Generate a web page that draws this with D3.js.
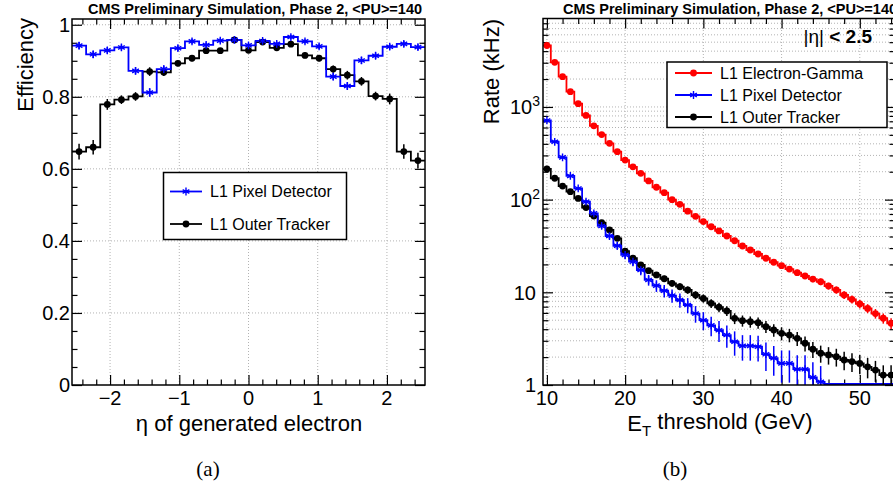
<!DOCTYPE html>
<html>
<head>
<meta charset="utf-8">
<script src="https://cdn.jsdelivr.net/npm/d3@7"></script>
<style>
  body { margin: 0; background: #fff; }
  svg { display: block; }
  text { font-family: "Liberation Sans", Arial, Helvetica, sans-serif; }
</style>
</head>
<body>
<svg id="canvas" width="893" height="488"></svg>
<script>
"use strict";

// (a) efficiency vs eta, 25 bins
var etaRange = [-2.55, 2.55];
var etaBinCount = 25;
var pixelEff = [0.942, 0.918, 0.929, 0.937, 0.872, 0.812, 0.877, 0.935, 0.954, 0.944, 0.956, 0.958, 0.943,
                0.955, 0.947, 0.966, 0.954, 0.940, 0.856, 0.830, 0.901, 0.914, 0.939, 0.947, 0.938];
var pixelEffErr = [0.010, 0.010, 0.009, 0.008, 0.010, 0.012, 0.010, 0.008, 0.007, 0.007, 0.006, 0.006, 0.007,
                   0.006, 0.006, 0.006, 0.006, 0.007, 0.010, 0.010, 0.010, 0.009, 0.008, 0.008, 0.008];
var trackerEff = [0.648, 0.660, 0.779, 0.792, 0.801, 0.870, 0.868, 0.893, 0.907, 0.928, 0.928, 0.958, 0.929,
                  0.952, 0.936, 0.946, 0.915, 0.907, 0.877, 0.860, 0.843, 0.802, 0.794, 0.648, 0.623];
var trackerEffErr = [0.022, 0.020, 0.015, 0.012, 0.012, 0.012, 0.010, 0.008, 0.008, 0.007, 0.007, 0.006, 0.007,
                     0.007, 0.007, 0.007, 0.008, 0.008, 0.010, 0.012, 0.012, 0.012, 0.015, 0.020, 0.022];
var etaTicks = [-2, -1, 0, 1, 2];
var effTicks = [0, 0.2, 0.4, 0.6, 0.8, 1];

// (b) rate vs ET threshold (kHz)
var etThresholds = [10, 11, 12, 13, 14, 15, 16, 17, 18, 19, 20, 21, 22, 23, 24, 25, 26, 27, 28, 29, 30, 31,
                    32, 33, 34, 35, 36, 37, 38, 39, 40, 41, 42, 43, 44, 45, 46, 47, 48, 49, 50, 51, 52, 53, 54];
var egRate = [4600, 3030, 2120, 1460, 1085, 810, 625, 503, 405, 329, 267, 226, 192, 159, 136, 119, 100, 89, 75,
              66, 58, 51, 46, 40.5, 36, 31.6, 28.6, 25.9, 23.3, 21.1, 19.4, 17.8, 16.3, 15.0, 13.9, 13.0,
              11.7, 10.6, 9.35, 8.4, 7.5, 6.7, 5.9, 5.25, 4.63];
var egErr = [20, 16, 13.4, 11.1, 9.6, 8.3, 7.3, 6.5, 5.8, 5.3, 4.7, 4.4, 4.0, 3.7, 3.4, 3.2, 2.9, 2.75, 2.5,
             2.3, 2.2, 2.1, 2.0, 1.85, 1.74, 1.63, 1.55, 1.48, 1.4, 1.33, 1.28, 1.22, 1.17, 1.12, 1.08, 1.05,
             0.99, 0.94, 0.89, 0.84, 0.79, 0.75, 0.70, 0.66, 0.62];
var pixelRate = [715, 421, 286, 180, 132, 95, 71, 52, 40.5, 31.8, 25.3, 21.4, 17.4, 13.6, 11.8, 10.4, 9.2,
                 8.26, 7.3, 5.9, 5.0, 4.4, 3.9, 3.46, 2.93, 2.64, 2.64, 2.59, 2.15, 1.95, 1.71, 1.71, 1.48,
                 1.48, 1.21, 1.08, 0, 0, 0, 0, 0, 0, 0, 0, 0];
var pixelErr = [13.4, 10.3, 8.5, 6.7, 5.7, 4.9, 4.2, 3.6, 3.2, 2.8, 2.5, 2.3, 2.1, 1.8, 1.7, 1.6, 1.5, 1.44,
                1.35, 1.2, 1.1, 1.05, 0.99, 0.93, 0.86, 0.81, 0.81, 0.8, 0.73, 0.69, 0.65, 0.65, 0.61, 0.61,
                0.55, 0.52, 0, 0, 0, 0, 0, 0, 0, 0, 0];
var trackerRate = [214, 170, 140, 122, 103, 82, 66.5, 56.4, 47, 38.2, 27.8, 23.3, 19.7, 17.1, 15.4, 14.0,
                   12.5, 11.5, 10.6, 9.35, 8.6, 7.6, 6.9, 6.3, 5.24, 4.94, 4.82, 4.7, 4.26, 3.92, 3.61, 3.46,
                   3.19, 2.82, 2.43, 2.2, 2.11, 2.02, 1.86, 1.79, 1.71, 1.57, 1.45, 1.28, 1.28];
var trackerErr = [4.2, 3.8, 3.4, 3.2, 2.9, 2.6, 2.4, 2.2, 2.0, 1.8, 1.55, 1.42, 1.3, 1.22, 1.16, 1.1, 1.05,
                  1.0, 0.97, 0.92, 0.88, 0.83, 0.8, 0.76, 0.7, 0.68, 0.67, 0.66, 0.63, 0.61, 0.58, 0.57, 0.55,
                  0.52, 0.48, 0.46, 0.45, 0.44, 0.42, 0.41, 0.4, 0.39, 0.37, 0.35, 0.35];
var etTicks = [10, 20, 30, 40, 50];
var rateTicks = [1, 10, 100, 1000];

var TITLE = "CMS Preliminary Simulation, Phase 2, <PU>=140";
var RED = "#ff0000", BLUE = "#0000ff", BLACK = "#000000";
var LINE_W = 1.8;
var SERIF = "'Liberation Serif', 'Times New Roman', serif";

var svg = d3.select("#canvas");

function gridLines(g, x, y, xs, ys) {
    var xr = x.range(), yr = y.range();
    g.selectAll(null).data(xs).enter().append("line")
        .attr("x1", function(d) { return x(d); }).attr("x2", function(d) { return x(d); })
        .attr("y1", yr[0]).attr("y2", yr[1])
        .attr("stroke", "#aaa").attr("stroke-width", 0.9).attr("stroke-dasharray", "1,2");
    g.selectAll(null).data(ys).enter().append("line")
        .attr("x1", xr[0]).attr("x2", xr[1])
        .attr("y1", function(d) { return y(d); }).attr("y2", function(d) { return y(d); })
        .attr("stroke", "#aaa").attr("stroke-width", 0.9).attr("stroke-dasharray", "1,2");
}

// ticks inside the frame on all four sides; labels only bottom/left
function tickSet(g, x, y, xMajor, xMinor, yMajor, yMinor, majorLen, minorLen) {
    var xr = x.range(), yr = y.range();
    function put(axis, tx, ty) {
        var a = g.append("g").attr("transform", "translate(" + tx + "," + ty + ")").call(axis);
        a.select(".domain").remove();
        a.selectAll("text").remove();
        a.selectAll("line").attr("stroke", BLACK).attr("stroke-width", 1.2);
        return a;
    }
    [[xMajor, majorLen], [xMinor, minorLen]].forEach(function(p) {
        put(d3.axisBottom(x).tickValues(p[0]).tickSize(-p[1]), 0, yr[0]);
        put(d3.axisTop(x).tickValues(p[0]).tickSize(-p[1]), 0, yr[1]);
    });
    [[yMajor, majorLen], [yMinor, minorLen]].forEach(function(p) {
        put(d3.axisLeft(y).tickValues(p[0]).tickSize(-p[1]), xr[0], 0);
        put(d3.axisRight(y).tickValues(p[0]).tickSize(-p[1]), xr[1], 0);
    });
}

function frame(g, x, y) {
    var xr = x.range(), yr = y.range();
    g.append("rect")
        .attr("x", xr[0]).attr("y", yr[1])
        .attr("width", xr[1] - xr[0]).attr("height", yr[0] - yr[1])
        .attr("fill", "none").attr("stroke", BLACK).attr("stroke-width", 1.5);
}

function stepHist(g, x, y, lo, hi, values, color, floorY) {
    var pts = [];
    values.forEach(function(v, i) {
        var yy = v > 0 ? y(v) : floorY;
        pts.push([x(lo[i]), yy], [x(hi[i]), yy]);
    });
    g.append("path")
        .attr("d", d3.line()(pts))
        .attr("fill", "none").attr("stroke", color).attr("stroke-width", LINE_W);
}

function errorBars(g, x, y, centers, values, errs, color) {
    g.selectAll(null).data(values).enter()
        .filter(function(v) { return v > 0; })
        .append("line")
        .attr("x1", function(v, i) { return x(centers[i]); })
        .attr("x2", function(v, i) { return x(centers[i]); })
        .attr("y1", function(v, i) { return y(Math.max(v - errs[i], y.domain()[0])); })
        .attr("y2", function(v, i) { return y(v + errs[i]); })
        .attr("stroke", color).attr("stroke-width", 1.5);
}

function markerAt(g, cx, cy, kind, color) {
    if (kind === "star") {
        g.append("path")
            .attr("d", d3.symbol(d3.symbolAsterisk, 42)())
            .attr("transform", "translate(" + cx + "," + cy + ")")
            .attr("fill", "none").attr("stroke", color).attr("stroke-width", 1.4);
    } else {
        g.append("circle").attr("cx", cx).attr("cy", cy).attr("r", 3.4).attr("fill", color);
    }
}

function markers(g, x, y, centers, values, kind, color) {
    values.forEach(function(v, i) {
        if (v > 0) markerAt(g, x(centers[i]), y(v), kind, color);
    });
}

function legend(g, box, rows, fontSize) {
    g.append("rect")
        .attr("x", box[0]).attr("y", box[1]).attr("width", box[2]).attr("height", box[3])
        .attr("fill", "#fff").attr("stroke", BLACK).attr("stroke-width", 1.5);
    rows.forEach(function(r) {
        g.append("line").attr("x1", r.x0).attr("x2", r.x1).attr("y1", r.y).attr("y2", r.y)
            .attr("stroke", r.color).attr("stroke-width", LINE_W);
        markerAt(g, (r.x0 + r.x1) / 2, r.y, r.kind, r.color);
        g.append("text").attr("x", r.tx).attr("y", r.y).attr("dy", "0.36em")
            .attr("font-size", fontSize).text(r.label);
    });
}

// ---------- panel (a) ----------
(function() {
    var g = svg.append("g");
    var x = d3.scaleLinear().domain(etaRange).range([72, 425]);
    var y = d3.scaleLinear().domain([0, 1.016]).range([385, 19]);
    var w = (etaRange[1] - etaRange[0]) / etaBinCount;
    var lo = pixelEff.map(function(d, i) { return etaRange[0] + i * w; });
    var hi = lo.map(function(d) { return d + w; });
    var mid = lo.map(function(d) { return d + w / 2; });

    gridLines(g, x, y, etaTicks, effTicks.slice(1));

    var xMinor = [], yMinor = [];
    for (var k = -12; k <= 12; k++) if (k % 5 !== 0) xMinor.push(k * 0.2);
    for (var j = 1; j < 20; j++) if (j % 4 !== 0) yMinor.push(j * 0.05);
    tickSet(g, x, y, etaTicks, xMinor, effTicks, yMinor, 10, 5.5);

    stepHist(g, x, y, lo, hi, trackerEff, BLACK, 385);
    stepHist(g, x, y, lo, hi, pixelEff, BLUE, 385);
    errorBars(g, x, y, mid, trackerEff, trackerEffErr, BLACK);
    errorBars(g, x, y, mid, pixelEff, pixelEffErr, BLUE);
    markers(g, x, y, mid, trackerEff, "dot", BLACK);
    markers(g, x, y, mid, pixelEff, "star", BLUE);
    frame(g, x, y);

    g.selectAll(null).data(etaTicks).enter().append("text")
        .attr("x", function(d) { return x(d); }).attr("y", 405)
        .attr("text-anchor", "middle").attr("font-size", 20)
        .text(function(d) { return d < 0 ? "\u2212" + Math.abs(d) : d; });
    g.selectAll(null).data(effTicks).enter().append("text")
        .attr("x", 70).attr("y", function(d) { return y(d); }).attr("dy", "0.36em")
        .attr("text-anchor", "end").attr("font-size", 20)
        .text(function(d) { return d3.format("~g")(d); });

    g.append("text").attr("x", 255).attr("y", 14).attr("text-anchor", "middle")
        .attr("font-size", 14.5).attr("font-weight", "bold").text(TITLE);
    g.append("text").attr("transform", "translate(33,18) rotate(-90)")
        .attr("text-anchor", "end").attr("font-size", 22).text("Efficiency");
    g.append("text").attr("x", 249).attr("y", 431).attr("text-anchor", "middle")
        .attr("font-size", 22).text("\u03b7 of generated electron");

    legend(g, [163.5, 172.5, 183, 67], [
        { label: "L1 Pixel Detector", color: BLUE, kind: "star", x0: 170, x1: 202, tx: 210, y: 191.5 },
        { label: "L1 Outer Tracker", color: BLACK, kind: "dot", x0: 170, x1: 202, tx: 210, y: 224 }
    ], 16);

    svg.append("text").attr("x", 208).attr("y", 476).attr("text-anchor", "middle")
        .style("font-family", SERIF).attr("font-size", 21).text("(a)");
})();

// ---------- panel (b) ----------
(function() {
    var g = svg.append("g");
    var x = d3.scaleLinear().domain([9.5, 54.5]).range([543, 895]);
    var y = d3.scaleLog().domain([1, 9000]).range([385, 18.5]);
    var lo = etThresholds.map(function(d) { return d - 0.5; });
    var hi = etThresholds.map(function(d) { return d + 0.5; });

    var yMinor = [];
    rateTicks.forEach(function(dec) {
        for (var m = 2; m <= 9; m++) if (m * dec < 9000) yMinor.push(m * dec);
    });
    var xMinor = [];
    for (var e = 12; e <= 54; e += 2) if (e % 10 !== 0) xMinor.push(e);

    gridLines(g, x, y, etTicks, rateTicks.slice(1).concat(yMinor));
    tickSet(g, x, y, etTicks, xMinor, rateTicks, yMinor, 10, 5.5);

    svg.append("defs").append("clipPath").attr("id", "clipB")
        .append("rect").attr("x", 543).attr("y", 18.5).attr("width", 352).attr("height", 366.5);
    var plot = g.append("g").attr("clip-path", "url(#clipB)");
    stepHist(plot, x, y, lo, hi, egRate, RED, 385);
    stepHist(plot, x, y, lo, hi, trackerRate, BLACK, 385);
    stepHist(plot, x, y, lo, hi, pixelRate, BLUE, 384);
    errorBars(plot, x, y, etThresholds, egRate, egErr, RED);
    errorBars(plot, x, y, etThresholds, trackerRate, trackerErr, BLACK);
    errorBars(plot, x, y, etThresholds, pixelRate, pixelErr, BLUE);
    markers(plot, x, y, etThresholds, egRate, "dot", RED);
    markers(plot, x, y, etThresholds, trackerRate, "dot", BLACK);
    markers(plot, x, y, etThresholds, pixelRate, "star", BLUE);
    frame(g, x, y);

    g.selectAll(null).data(etTicks).enter().append("text")
        .attr("x", function(d) { return x(d); }).attr("y", 405)
        .attr("text-anchor", "middle").attr("font-size", 20).text(function(d) { return d; });
    var yl = g.selectAll(null).data(rateTicks).enter().append("text")
        .attr("x", function(d) { return d < 100 ? 536 : 540; })
        .attr("y", function(d) { return y(d); }).attr("dy", "0.36em")
        .attr("text-anchor", "end").attr("font-size", 20);
    yl.each(function(d) {
        var t = d3.select(this), p = Math.round(Math.log10(d));
        if (p < 2) { t.text(d); return; }
        t.append("tspan").text("10");
        t.append("tspan").attr("font-size", 14).attr("dy", "-0.55em").text(p);
    });

    g.append("text").attr("x", 730).attr("y", 14).attr("text-anchor", "middle")
        .attr("font-size", 14.5).attr("font-weight", "bold").text(TITLE);
    g.append("text").attr("transform", "translate(499,19) rotate(-90)")
        .attr("text-anchor", "end").attr("font-size", 22).text("Rate (kHz)");
    var xt = g.append("text").attr("x", 720).attr("y", 431).attr("text-anchor", "middle").attr("font-size", 22);
    xt.append("tspan").text("E");
    xt.append("tspan").attr("font-size", 15).attr("dy", "0.35em").text("T");
    xt.append("tspan").attr("dy", "-0.35em").text(" threshold (GeV)");

    var eta = g.append("text").attr("x", 872).attr("y", 43).attr("text-anchor", "end").attr("font-size", 19);
    eta.append("tspan").text("|\u03b7|");
    eta.append("tspan").attr("font-weight", "bold").text(" < 2.5");

    legend(g, [667, 62, 220, 65.5], [
        { label: "L1 Electron-Gamma", color: RED, kind: "dot", x0: 675, x1: 712, tx: 720, y: 73 },
        { label: "L1 Pixel Detector", color: BLUE, kind: "star", x0: 675, x1: 712, tx: 720, y: 95 },
        { label: "L1 Outer Tracker", color: BLACK, kind: "dot", x0: 675, x1: 712, tx: 720, y: 117 }
    ], 16);

    svg.append("text").attr("x", 675).attr("y", 476).attr("text-anchor", "middle")
        .style("font-family", SERIF).attr("font-size", 21).text("(b)");
})();
</script>
</body>
</html>
